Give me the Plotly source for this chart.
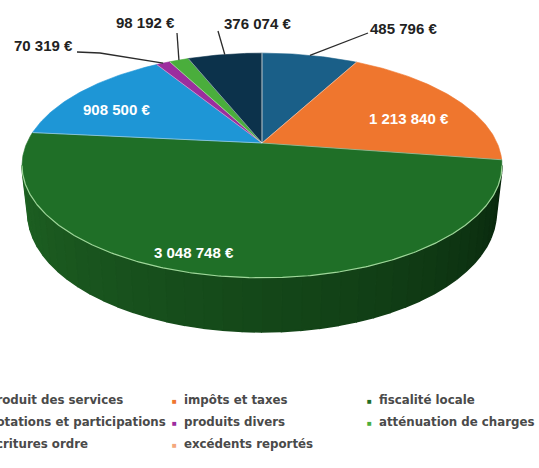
import math
import plotly.graph_objects as go

W, H = 539, 468

# ---------------- data ----------------
categories = ["produit des services", "impôts et taxes", "fiscalité locale",
              "dotations et participations", "produits divers", "atténuation de charges",
              "écritures ordre", "excédents reportés"]
values = [485796, 1213840, 3048748, 908500, 70319, 98192, 376074, 0]
colors = ["#1a5f88", "#ef762e", "#1f6f27", "#1e96d6", "#9c2d9e", "#4aae3c",
          "#0c324b", "#f4a77c"]

# ---------------- 3D projection of the pie ----------------
CX, CY = 262.0, 143.0
FOCAL = 1044.0
DIST = 4.44
ELEV = math.radians(27.3)
THICK = 0.2286
CE, SE = math.cos(ELEV), math.sin(ELEV)


def proj(phi_deg, r=1.0, z=0.0):
    p = math.radians(phi_deg)
    X, Y = r * math.sin(p), r * math.cos(p)
    depth = DIST + Y * CE - z * SE
    return CX + X * FOCAL / depth, CY - (Y * SE + z * CE) * FOCAL / depth


def arc(a, b, z=0.0, step=0.75):
    n = max(2, int(abs(b - a) / step) + 2)
    pts = [proj(a + (b - a) * k / (n - 1), 1.0, z) for k in range(n)]
    return [p[0] for p in pts], [p[1] for p in pts]


def extreme(z, lo, hi, right=True):
    best, bphi = None, lo
    k = lo
    while k <= hi:
        x = proj(k, 1.0, z)[0]
        if best is None or (x > best if right else x < best):
            best, bphi = x, k
        k += 0.05
    return bphi


total = float(sum(values))
bounds = [0.0]
for v in values:
    bounds.append(bounds[-1] + 360.0 * v / total)

fig = go.Figure()

# side wall (front visible part), shaded in strips
rt, lt = extreme(0.0, 0, 180, True), extreme(0.0, 180, 360, False)
rb, lb = extreme(-THICK, 0, 180, True), extreme(-THICK, 180, 360, False)
NS = 40
dark, light = (8, 36, 12), (30, 98, 35)
for i in range(NS):
    t0, t1 = i / NS, (i + 1) / NS
    xs_t, ys_t = arc(rt + (lt - rt) * t0, rt + (lt - rt) * t1, 0.0, 0.5)
    xs_b, ys_b = arc(rb + (lb - rb) * t1, rb + (lb - rb) * t0, -THICK, 0.5)
    tm = ((t0 + t1) / 2) ** 0.8
    col = "rgb(%d,%d,%d)" % tuple(int(dark[j] + (light[j] - dark[j]) * tm) for j in range(3))
    fig.add_trace(go.Scatter(x=xs_t + xs_b, y=ys_t + ys_b, mode="lines", fill="toself",
                             fillcolor=col, line=dict(color=col, width=1.6),
                             hoverinfo="skip", showlegend=False))

# top face slices
for i, v in enumerate(values):
    if v <= 0:
        continue
    xs, ys = arc(bounds[i], bounds[i + 1])
    fig.add_trace(go.Scatter(x=[CX] + xs + [CX], y=[CY] + ys + [CY], mode="lines",
                             fill="toself", fillcolor=colors[i],
                             line=dict(color=colors[i], width=0.6),
                             hoverinfo="skip", showlegend=False))

# front rim highlight
xs, ys = arc(rt, lt, 0.0, 0.5)
fig.add_trace(go.Scatter(x=xs, y=ys, mode="lines", line=dict(color="#9fd69a", width=1.2),
                         hoverinfo="skip", showlegend=False))

# slice separators
sx, sy = [], []
for b in bounds[:-1]:
    px_, py_ = proj(b)
    sx += [CX, px_, None]
    sy += [CY, py_, None]
fig.add_trace(go.Scatter(x=sx, y=sy, mode="lines",
                         line=dict(color="rgba(255,255,255,0.55)", width=0.8),
                         hoverinfo="skip", showlegend=False))


def fmt(v):
    return f"{v:,}".replace(",", " ") + " €"


def P(x, y):
    return dict(x=x / W, y=1 - y / H, xref="paper", yref="paper", showarrow=False)


annotations = []

# inside labels (white)
inside_pos = {1: (409, 118), 2: (194, 252), 3: (116, 109)}
for i, (lx, ly) in inside_pos.items():
    annotations.append(dict(**P(lx, ly), text=fmt(values[i]), xanchor="center",
                            yanchor="middle",
                            font=dict(family="Liberation Sans", size=15, color="white",
                                      weight="bold")))

# outside labels with leader lines
outside = {0: ((403, 28), [(368, 33)]),
           6: ((257, 23), [(218, 31)]),
           5: ((145, 22), [(177, 33)]),
           4: ((43, 46), [(100, 53), (77, 52)])}
for i, ((lx, ly), elbows) in outside.items():
    mid = (bounds[i] + bounds[i + 1]) / 2
    ax_, ay_ = proj(mid)
    fig.add_trace(go.Scatter(x=[ax_] + [e[0] for e in elbows],
                             y=[ay_] + [e[1] for e in elbows], mode="lines",
                             line=dict(color="#2b2b2b", width=1.3),
                             hoverinfo="skip", showlegend=False))
    annotations.append(dict(**P(lx, ly), text=fmt(values[i]), xanchor="center",
                            yanchor="middle",
                            font=dict(family="Liberation Sans", size=15, color="#222222",
                                      weight="bold")))

# legend (3 columns, row-wise)
col_text_x = [-14, 182, 377]
row_y = [400, 422, 444]
for i, name in enumerate(categories):
    r, c = divmod(i, 3)
    tx, ty = col_text_x[c], row_y[r]
    annotations.append(dict(**P(tx - 8, ty), text="■", xanchor="center", yanchor="middle",
                            font=dict(size=8, color=colors[i])))
    annotations.append(dict(**P(tx, ty), text=name, xanchor="left", yanchor="middle",
                            font=dict(family="DejaVu Sans", size=11.8, color="#4a4a4a",
                                      weight="bold")))

fig.update_layout(
    width=W, height=H, autosize=False,
    margin=dict(l=0, r=0, t=0, b=0, autoexpand=False),
    paper_bgcolor="white", plot_bgcolor="white",
    xaxis=dict(range=[0, W], visible=False, fixedrange=True, domain=[0, 1]),
    yaxis=dict(range=[H, 0], visible=False, fixedrange=True, domain=[0, 1]),
    annotations=annotations,
    showlegend=False,
)

fig.write_html("out.html",
               config={"displayModeBar": False},
               post_script="document.body.style.margin='0px';"
                           "document.body.style.overflow='hidden';")
